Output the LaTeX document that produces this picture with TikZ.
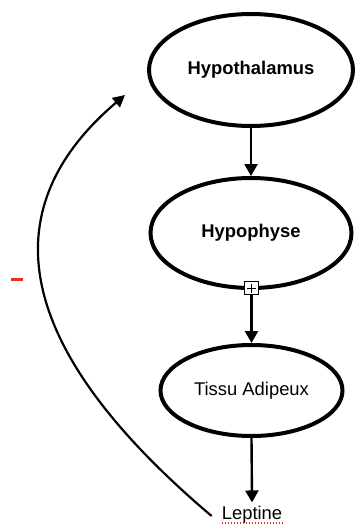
\documentclass[tikz,border=0pt]{standalone}
\usepackage{fontspec}
\setmainfont{Liberation Sans}
\usetikzlibrary{shapes.geometric,arrows.meta}
\definecolor{minusred}{RGB}{232,50,30}
\tikzset{
  organ/.style={draw,ellipse,line width=4pt,inner sep=0pt,font=\fontsize{18.4}{20}\selectfont},
  link/.style={line width=2.4pt,-{Triangle[width=13pt,length=12pt]}},
  plusbox/.style={draw,fill=white,line width=1pt,minimum width=14pt,minimum height=13pt,inner sep=0pt},
  label/.style={font=\fontsize{18.4}{20}\selectfont,inner sep=4pt}
}
\begin{document}
\begin{tikzpicture}[x=1pt,y=-1pt]
  \useasboundingbox (0,0) rectangle (356,524);
  % organs of the axis
  \node[organ,minimum width=204pt,minimum height=112pt] (hypo) at (251,70) {\bfseries Hypothalamus};
  \node[organ,minimum width=201pt,minimum height=110pt] (hyph) at (251,233) {\bfseries Hypophyse};
  \node[organ,minimum width=182pt,minimum height=91pt] (tissu) at (251.5,390.5) {Tissu Adipeux};
  \node[label,anchor=base] (lep) at (252,519) {Leptine};
  % stimulation mark on the pituitary output
  \node[plusbox] (plus) at (251.5,288) {};
  \draw[line width=1pt] ([xshift=-4.5pt]plus.center) -- ([xshift=4.5pt]plus.center)
                        ([yshift=-4.5pt]plus.center) -- ([yshift=4.5pt]plus.center);
  % descending cascade
  \draw[link] (hypo.south) -- (hyph.north);
  \draw[link] (plus.south) -- (tissu.north);
  \draw[link] (tissu.south) -- ([yshift=-1pt]lep.north);
  % negative feedback of leptin
  \coordinate (fbtip) at (125,95);
  \draw[line width=2.2pt,-{Triangle[width=12pt,length=12pt]}]
    ([shift={(-6,-3)}]lep.base west) .. controls (-32,310) and (25,180) .. (fbtip);
  \node[fill=minusred,minimum width=12pt,minimum height=3pt,inner sep=0pt] (minus) at (17,279) {};
  % spell-check squiggle under the leptin label
  \draw[minusred,line width=1.3pt,dash pattern=on 1.5pt off 1.5pt]
    ([shift={(4,4)}]lep.base west) -- ([shift={(-4,4)}]lep.base east);
\end{tikzpicture}
\end{document}
